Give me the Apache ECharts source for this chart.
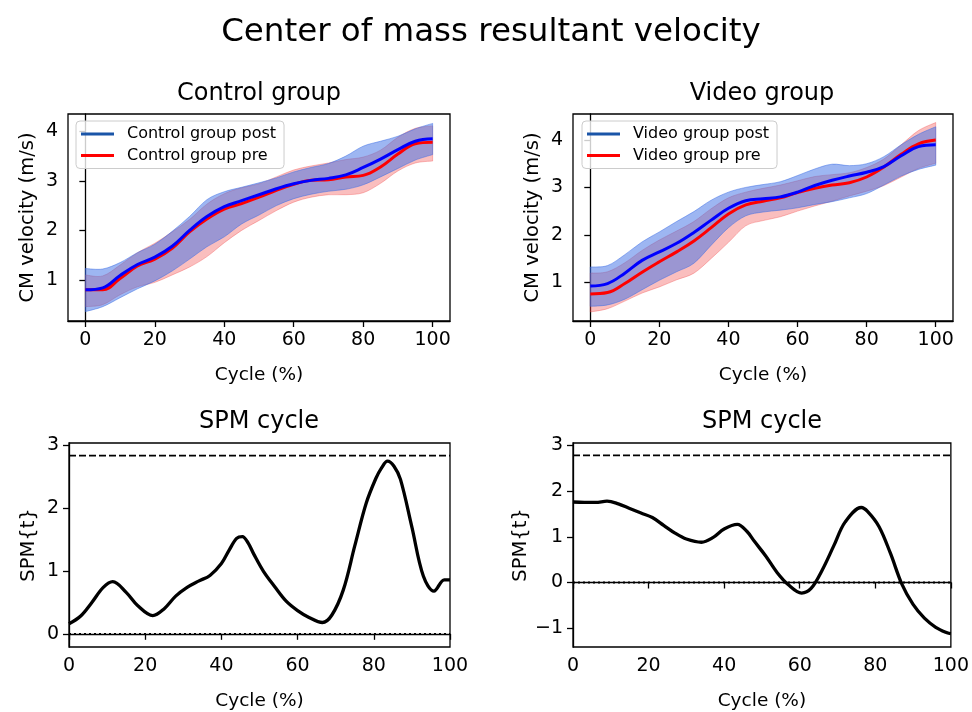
<!DOCTYPE html>
<html>
<head>
<meta charset="utf-8">
<script src="https://cdn.jsdelivr.net/npm/echarts@6/dist/echarts.min.js"></script>
<style>html,body{margin:0;padding:0;background:#fff}#c{width:972px;height:712px}</style>
</head>
<body>
<div id="c"></div>
<script>
// ---------- data ----------
const CYCLE = [0,5,10,15,20,25,30,35,40,45,50,55,60,65,70,75,80,85,90,95,100];

const ctrlPost      = [0.80,0.84,1.09,1.31,1.46,1.68,2.00,2.28,2.48,2.60,2.72,2.84,2.94,3.01,3.05,3.12,3.27,3.44,3.63,3.80,3.85];
const ctrlPostUpper = [1.23,1.22,1.35,1.55,1.72,1.98,2.28,2.62,2.78,2.87,2.96,3.06,3.18,3.27,3.35,3.50,3.70,3.80,3.90,4.05,4.16];
const ctrlPostLower = [0.36,0.46,0.64,0.82,0.98,1.18,1.42,1.67,1.87,2.13,2.31,2.50,2.64,2.73,2.79,2.83,2.92,3.08,3.25,3.42,3.53];
const ctrlPre       = [0.80,0.80,1.03,1.28,1.42,1.64,1.97,2.23,2.43,2.54,2.67,2.81,2.93,3.01,3.02,3.08,3.11,3.28,3.54,3.75,3.78];
const ctrlPreUpper  = [1.10,1.08,1.30,1.55,1.74,1.97,2.22,2.53,2.74,2.86,2.94,3.08,3.22,3.30,3.36,3.43,3.48,3.62,3.88,4.06,4.11];
const ctrlPreLower  = [0.46,0.50,0.70,0.86,0.95,1.10,1.26,1.47,1.75,2.00,2.20,2.40,2.57,2.67,2.72,2.72,2.76,2.95,3.20,3.36,3.40];

const videoPost      = [0.92,0.97,1.19,1.46,1.64,1.82,2.05,2.31,2.56,2.72,2.76,2.80,2.90,3.04,3.15,3.24,3.32,3.44,3.67,3.86,3.90];
const videoPostUpper = [1.32,1.35,1.58,1.85,2.06,2.28,2.49,2.73,2.90,3.00,3.06,3.12,3.25,3.39,3.49,3.46,3.50,3.65,3.90,4.12,4.28];
const videoPostLower = [0.49,0.52,0.64,0.84,1.04,1.22,1.40,1.78,2.15,2.40,2.48,2.52,2.57,2.64,2.70,2.78,2.87,3.05,3.24,3.38,3.47];
const videoPre       = [0.75,0.78,0.97,1.21,1.43,1.64,1.87,2.15,2.44,2.63,2.71,2.78,2.89,2.98,3.05,3.10,3.22,3.43,3.70,3.92,4.00];
const videoPreUpper  = [1.19,1.22,1.41,1.67,1.89,2.08,2.28,2.55,2.78,2.90,2.98,3.05,3.14,3.23,3.27,3.31,3.42,3.60,3.90,4.20,4.37];
const videoPreLower  = [0.37,0.44,0.60,0.77,0.90,1.05,1.19,1.50,1.84,2.19,2.30,2.38,2.50,2.61,2.71,2.82,2.92,3.04,3.22,3.40,3.51];

const spmCtrlX = [0,3,6,9,11.5,15,18,22,25,28,31,34,37,40,42,44,45.5,47,48.5,51,54,57,60,63,66.5,69,72,75,78,80.5,82,83.6,85.3,87,90,93,95.8,98.5,100];
const spmCtrlT = [0.16,0.28,0.50,0.74,0.83,0.66,0.45,0.29,0.40,0.60,0.74,0.84,0.93,1.12,1.33,1.52,1.55,1.45,1.27,1.00,0.75,0.52,0.37,0.26,0.18,0.30,0.70,1.40,2.08,2.47,2.64,2.75,2.67,2.46,1.70,0.92,0.68,0.86,0.86];
const spmVideoX = [0,3,6,9,12,15,18,21,24,27,30,34,37,40,43.5,46,48,51,54,57,60.5,63,66,69,72,76.3,78,81,84,87,90,93,96,99,100];
const spmVideoT = [1.76,1.75,1.75,1.78,1.72,1.62,1.52,1.42,1.25,1.08,0.95,0.88,0.98,1.17,1.27,1.12,0.90,0.58,0.22,-0.05,-0.23,-0.13,0.28,0.80,1.32,1.64,1.55,1.22,0.64,-0.03,-0.48,-0.78,-0.98,-1.10,-1.12];

const spmCtrlThreshold = 2.84;
const spmVideoThreshold = 2.78;

const cycleTicks = [0,20,40,60,80,100];
const velTicks = [1,2,3,4];
const spmCtrlTicks = [0,1,2,3];
const spmVideoTicks = [-1,0,1,2,3];

// ---------- helpers ----------
const FONT = 'DejaVu Sans';
const pairs = (xs, ys) => xs.map((x, i) => [x, ys[i]]);
const fmt = v => (v < 0 ? '\u2212' + Math.abs(v) : String(v));

const BLUE = '#0000ff', RED = '#ff0000';
const BLUE_BAND = 'rgba(60,110,230,0.5)', RED_BAND = 'rgba(240,70,70,0.35)';

const grids = [
  {left: 68, top: 114, width: 382, height: 207},
  {left: 573, top: 114, width: 380, height: 207},
  {left: 69, top: 443, width: 381, height: 207},
  {left: 573, top: 443, width: 380, height: 207}
].map(g => Object.assign(g, {show: true, borderColor: '#000', borderWidth: 1.3, backgroundColor: 'transparent', containLabel: false}));

function xAxis(i, min, max) {
  return {
    type: 'value', gridIndex: i, min: min, max: max,
    name: 'Cycle (%)', nameLocation: 'middle', nameGap: 45,
    nameTextStyle: {fontFamily: FONT, fontSize: 18.5, color: '#000'},
    axisLine: {show: true, lineStyle: {color: '#000', width: 1.3}},
    axisTick: {show: true, length: 6, lineStyle: {color: '#000', width: 1.3}, customValues: cycleTicks},
    axisLabel: {fontFamily: FONT, fontSize: 19, color: '#000', margin: 10, customValues: cycleTicks, formatter: fmt},
    splitLine: {show: false}
  };
}
function yAxis(i, min, max, ticks, name, gap) {
  return {
    type: 'value', gridIndex: i, min: min, max: max,
    name: name, nameLocation: 'middle', nameGap: gap, nameRotate: 90,
    nameTextStyle: {fontFamily: FONT, fontSize: 19.5, color: '#000'},
    axisLine: {show: true, lineStyle: {color: '#000', width: 1.3}},
    axisTick: {show: true, length: 6, lineStyle: {color: '#000', width: 1.3}, customValues: ticks},
    axisLabel: {fontFamily: FONT, fontSize: 19, color: '#000', margin: 10, customValues: ticks, formatter: fmt},
    splitLine: {show: false}
  };
}

// smooth open curve (Catmull-Rom -> cubic Bezier) through pixel points
function curvePath(pts) {
  let d = '';
  for (let i = 0; i < pts.length - 1; i++) {
    const p0 = pts[i - 1] || pts[i], p1 = pts[i], p2 = pts[i + 1], p3 = pts[i + 2] || pts[i + 1];
    const c1 = [p1[0] + (p2[0] - p0[0]) / 6, p1[1] + (p2[1] - p0[1]) / 6];
    const c2 = [p2[0] - (p3[0] - p1[0]) / 6, p2[1] - (p3[1] - p1[1]) / 6];
    d += ' C' + c1[0] + ',' + c1[1] + ' ' + c2[0] + ',' + c2[1] + ' ' + p2[0] + ',' + p2[1];
  }
  return d;
}

function band(idx, upper, lower, color) {
  return {
    type: 'custom', coordinateSystem: 'cartesian2d', xAxisIndex: idx, yAxisIndex: idx,
    data: [[CYCLE[0], lower[0]]], silent: true, z: 1,
    renderItem: function (params, api) {
      const up = CYCLE.map((x, i) => api.coord([x, upper[i]]));
      const lo = CYCLE.map((x, i) => api.coord([x, lower[i]])).reverse();
      const d = 'M' + up[0][0] + ',' + up[0][1] + curvePath(up) +
        ' L' + lo[0][0] + ',' + lo[0][1] + curvePath(lo) + ' Z';
      return {type: 'path', shape: {pathData: d}, style: {fill: color, stroke: color, lineWidth: 1}};
    }
  };
}
function meanLine(idx, name, ys, color, z) {
  return {type: 'line', name: name, xAxisIndex: idx, yAxisIndex: idx, data: pairs(CYCLE, ys),
    smooth: 0.4, symbol: 'none', lineStyle: {width: 3, color: color}, itemStyle: {color: color}, z: z};
}
function hLine(idx, y, type) {
  return {type: 'line', xAxisIndex: idx, yAxisIndex: idx, data: [[0, y], [100, y]], symbol: 'none', silent: true,
    lineStyle: {width: 1.8, color: '#000', type: type}, z: 2};
}

const series = [
  band(0, ctrlPreUpper, ctrlPreLower, RED_BAND),
  band(0, ctrlPostUpper, ctrlPostLower, BLUE_BAND),
  meanLine(0, 'Control group pre', ctrlPre, RED, 3),
  meanLine(0, 'Control group post', ctrlPost, BLUE, 4),
  band(1, videoPreUpper, videoPreLower, RED_BAND),
  band(1, videoPostUpper, videoPostLower, BLUE_BAND),
  meanLine(1, 'Video group pre', videoPre, RED, 3),
  meanLine(1, 'Video group post', videoPost, BLUE, 4),
  hLine(2, spmCtrlThreshold, [7, 3]), hLine(2, 0, [2, 3]),
  {type: 'line', xAxisIndex: 2, yAxisIndex: 2, data: pairs(spmCtrlX, spmCtrlT), smooth: 0.35, symbol: 'none',
   lineStyle: {width: 3.3, color: '#000'}, z: 3},
  hLine(3, spmVideoThreshold, [7, 3]), hLine(3, 0, [2, 3]),
  {type: 'line', xAxisIndex: 3, yAxisIndex: 3, data: pairs(spmVideoX, spmVideoT), smooth: 0.35, symbol: 'none',
   lineStyle: {width: 3.3, color: '#000'}, z: 3}
];

function legend(left, names) {
  return {
    left: left, top: 121, orient: 'vertical', itemGap: 5.5, itemWidth: 33, itemHeight: 3,
    padding: [5, 8, 5, 5], borderColor: '#cccccc', borderWidth: 1, borderRadius: 4,
    backgroundColor: 'rgba(255,255,255,0.8)', icon: 'rect',
    textStyle: {fontFamily: FONT, fontSize: 16, color: '#000', padding: [0, 0, 0, 8]},
    data: names, selectedMode: false
  };
}

const titleStyle = (s) => ({fontFamily: FONT, fontSize: s, fontWeight: 'normal', color: '#000'});

const option = {
  animation: false,
  backgroundColor: '#fff',
  title: [
    {text: 'Center of mass resultant velocity', left: 486, top: 11, textAlign: 'center', textStyle: titleStyle(32.5)},
    {text: 'Control group', left: 254, top: 77, textAlign: 'center', textStyle: titleStyle(24)},
    {text: 'Video group', left: 757, top: 77, textAlign: 'center', textStyle: titleStyle(24)},
    {text: 'SPM cycle', left: 254, top: 405, textAlign: 'center', textStyle: titleStyle(24)},
    {text: 'SPM cycle', left: 757, top: 405, textAlign: 'center', textStyle: titleStyle(24)}
  ],
  legend: [
    legend(76, [{name: 'Control group post', itemStyle: {color: '#1a55a8'}}, {name: 'Control group pre', itemStyle: {color: RED}}]),
    legend(582, [{name: 'Video group post', itemStyle: {color: '#1a55a8'}}, {name: 'Video group pre', itemStyle: {color: RED}}])
  ],
  grid: grids,
  xAxis: [xAxis(0, -5, 105), xAxis(1, -5, 105), xAxis(2, 0, 100), xAxis(3, 0, 100)],
  yAxis: [
    yAxis(0, 0.17, 4.35, velTicks, 'CM velocity (m/s)', 30),
    yAxis(1, 0.18, 4.55, velTicks, 'CM velocity (m/s)', 30),
    yAxis(2, -0.21, 3.04, spmCtrlTicks, 'SPM{t}', 30),
    yAxis(3, -1.41, 3.05, spmVideoTicks, 'SPM{t}', 32)
  ],
  series: series
};

const chart = echarts.init(document.getElementById('c'), null, {renderer: 'canvas'});
chart.setOption(option);
</script>
</body>
</html>
